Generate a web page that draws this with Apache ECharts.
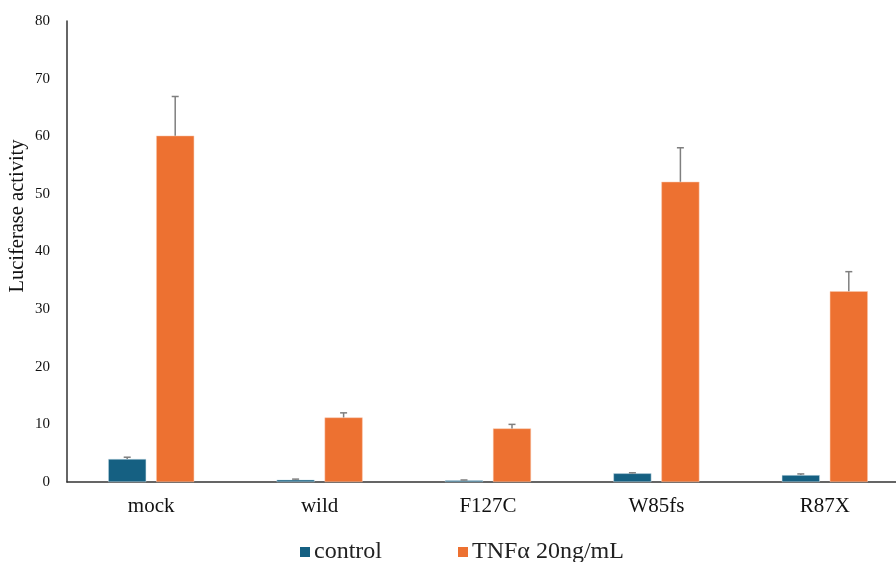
<!DOCTYPE html>
<html><head><meta charset="utf-8">
<script src="https://cdn.jsdelivr.net/npm/echarts@6/dist/echarts.min.js"></script>
<style>html,body{margin:0;padding:0;background:#fff}#c{width:896px;height:562px}</style>
</head><body><div id="c"></div>
<script>
const categories = ['mock', 'wild', 'F127C', 'W85fs', 'R87X'];
const controlValues = [4.0, 0.4, 0.3, 1.5, 1.2];
const controlErrTop = [4.3, 0.5, 0.35, 1.6, 1.4];
const tnfValues = [60.1, 11.2, 9.3, 52.1, 33.1];
const tnfErrTop = [66.9, 12.0, 10.0, 58.0, 36.5];
const yTicks = [0, 10, 20, 30, 40, 50, 60, 70, 80];

const FONT = '"Liberation Serif", "Times New Roman", serif';
const chart = echarts.init(document.getElementById('c'));
const BAR_W = 38, GAP = 10;

function errSeries(key, tops, offset) {
  return {
    type: 'custom', name: key + '_err', silent: true, z: 5,
    data: tops.map((v, i) => [i, v]),
    renderItem: function (params, api) {
      const i = api.value(0);
      const topPt = api.coord([i, api.value(1)]);
      const barVal = (key === 'control' ? controlValues : tnfValues)[i];
      const barPt = api.coord([i, barVal]);
      const x = topPt[0] + offset;
      return {
        type: 'group',
        children: [
          {type: 'line', shape: {x1: x, y1: barPt[1], x2: x, y2: topPt[1]}, style: {stroke: '#7f7f7f', lineWidth: 1.5}},
          {type: 'line', shape: {x1: x - 3.5, y1: topPt[1], x2: x + 3.5, y2: topPt[1]}, style: {stroke: '#7f7f7f', lineWidth: 1.5}}
        ]
      };
    }
  };
}

chart.setOption({
  animation: false,
  textStyle: {fontFamily: FONT},
  grid: {left: 67, top: 21, width: 842, height: 461, containLabel: false, outerBoundsMode: 'none'},
  legend: {
    data: [{name: 'control'}, {name: 'TNFα 20ng/mL'}],
    top: 535, left: 295, icon: 'rect', itemWidth: 10, itemHeight: 10, itemGap: 76,
    itemStyle: {borderWidth: 0},
    textStyle: {fontFamily: FONT, fontSize: 24, color: '#222', padding: [0, 0, 0, -1]}
  },
  graphic: [{
    type: 'text', x: 18, y: 216, rotation: Math.PI / 2,
    style: {text: 'Luciferase activity', font: '20.5px ' + FONT, fill: '#111', textAlign: 'center', textVerticalAlign: 'middle'}
  }],
  xAxis: {
    type: 'category', data: categories,
    axisLine: {lineStyle: {color: '#333', width: 1.5}},
    axisTick: {show: false},
    axisLabel: {fontFamily: FONT, fontSize: 21, color: '#111', margin: 14}
  },
  yAxis: {
    type: 'value', min: 0, max: 80, interval: 10,
    axisLine: {show: true, lineStyle: {color: '#333', width: 1.5}},
    axisTick: {show: false},
    splitLine: {show: false},
    axisLabel: {fontFamily: FONT, fontSize: 15, color: '#111', margin: 17,
      formatter: v => yTicks.includes(v) ? String(v) : ''}
  },
  series: [
    {name: 'control', type: 'bar', data: controlValues, barWidth: BAR_W, barGap: (GAP / BAR_W * 100) + '%',
      itemStyle: {color: '#156082', borderColor: '#cfe0ea', borderWidth: 0.5}},
    {name: 'TNFα 20ng/mL', type: 'bar', data: tnfValues, barWidth: BAR_W,
      itemStyle: {color: '#ED7131', borderColor: '#f8c9ae', borderWidth: 0.5}},
    errSeries('control', controlErrTop, -(BAR_W + GAP) / 2),
    errSeries('tnf', tnfErrTop, (BAR_W + GAP) / 2)
  ]
});
</script></body></html>
